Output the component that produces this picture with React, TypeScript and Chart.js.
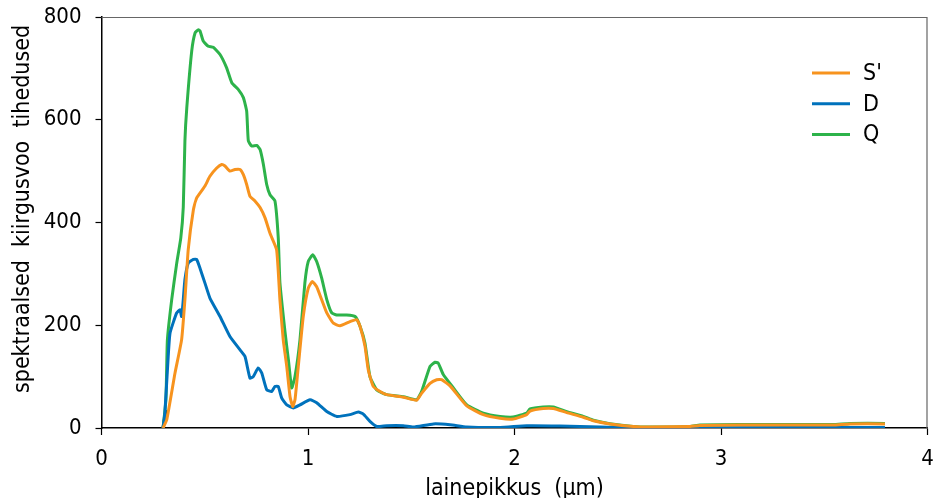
import React, { useEffect, useRef } from "react";
import { Chart, registerables } from "chart.js";

Chart.register(...registerables);

const FONT = '"DejaVu Sans Condensed", "DejaVu Sans", sans-serif';

// S' (orange)
const sX = [0.298, 0.316, 0.356, 0.388, 0.404, 0.42, 0.445, 0.461, 0.501, 0.525, 0.558, 0.582, 0.598, 0.622, 0.646, 0.671, 0.687, 0.703, 0.719, 0.743, 0.768, 0.792, 0.816, 0.848, 0.864, 0.88, 0.897, 0.913, 0.926, 0.937, 0.953, 0.977, 1.001, 1.021, 1.042, 1.066, 1.091, 1.123, 1.155, 1.203, 1.236, 1.252, 1.276, 1.292, 1.316, 1.349, 1.381, 1.462, 1.526, 1.551, 1.591, 1.623, 1.647, 1.688, 1.769, 1.849, 1.93, 1.994, 2.059, 2.075, 2.139, 2.188, 2.253, 2.333, 2.382, 2.462, 2.575, 2.656, 2.85, 2.898, 3.27, 3.542, 3.625, 3.794];
const sY = [0, 16, 107, 172, 250, 347, 425, 448, 471, 490, 506, 513, 510, 500, 503, 503, 493, 474, 451, 442, 429, 409, 379, 347, 250, 172, 120, 61, 42, 55, 120, 217, 272, 285, 275, 250, 224, 204, 199, 207, 211, 198, 159, 113, 81, 71, 65, 60, 54, 68, 87, 94, 94, 82, 43, 26, 19, 17.5, 26, 33, 38, 38, 30, 21, 14, 8, 3, 2, 3, 5, 6, 6, 8, 8];

// D (blue)
const dX = [0.298, 0.307, 0.323, 0.332, 0.364, 0.38, 0.388, 0.396, 0.404, 0.42, 0.445, 0.461, 0.477, 0.501, 0.525, 0.574, 0.622, 0.671, 0.695, 0.719, 0.735, 0.759, 0.776, 0.8, 0.824, 0.84, 0.856, 0.873, 0.897, 0.929, 0.961, 1.01, 1.042, 1.091, 1.139, 1.203, 1.244, 1.268, 1.3, 1.333, 1.381, 1.462, 1.51, 1.607, 1.688, 1.769, 1.93, 2.059, 2.22, 2.414, 2.575, 2.898, 3.794];
const dY = [0, 30, 139, 185, 224, 230, 217, 250, 289, 321, 328, 328, 311, 282, 253, 217, 178, 152, 139, 97, 100, 117, 107, 74.5, 71, 81, 81, 58, 45, 39, 45, 55, 49, 32, 22.6, 26, 31, 27, 13, 3, 4.5, 4.5, 2, 8, 6.4, 2, 1, 4.5, 4, 2, 0.5, 0.5, 1];

// Q (green)
const qX = [0.298, 0.312, 0.319, 0.34, 0.364, 0.384, 0.396, 0.404, 0.413, 0.437, 0.453, 0.469, 0.477, 0.493, 0.517, 0.541, 0.574, 0.606, 0.631, 0.662, 0.687, 0.703, 0.711, 0.727, 0.752, 0.768, 0.784, 0.8, 0.816, 0.84, 0.856, 0.864, 0.889, 0.905, 0.921, 0.937, 0.961, 0.985, 1.001, 1.023, 1.042, 1.066, 1.091, 1.115, 1.139, 1.187, 1.228, 1.252, 1.276, 1.3, 1.333, 1.381, 1.462, 1.526, 1.551, 1.591, 1.615, 1.631, 1.655, 1.704, 1.769, 1.849, 1.93, 1.994, 2.059, 2.075, 2.139, 2.188, 2.253, 2.333, 2.382, 2.462, 2.575, 2.656, 2.85, 2.898, 3.27, 3.542, 3.625, 3.794];
const qY = [0, 55, 171, 250, 320, 370, 430, 559, 623, 734, 769, 775, 773, 753, 743, 741, 727, 701, 672, 659, 643, 617, 559, 549, 550, 542, 513, 474, 454, 442, 370, 283, 186, 133, 78, 100, 171, 283, 324, 337, 324, 292, 250, 224, 220, 220, 217, 198, 165, 100, 74, 65, 61, 55, 72, 120, 128, 126, 104, 78, 45, 29, 22.6, 21.4, 29, 37, 41, 41, 32, 22.6, 15, 8.4, 3, 2, 3, 6, 7, 7, 9, 9];

// short black start segment
const kX = [0.298, 0.312];
const kY = [0, 35];

const legendLabels = ["S'", "D", "Q"];
const colors = ["#f7931e", "#0072bc", "#2db34a"];

const xTicks = [0, 1, 2, 3, 4];
const yTicks = [0, 200, 400, 600, 800];
const xTitle = "lainepikkus  (µm)";
const yTitle = "spektraalsed  kiirgusvoo  tihedused";

const pts = (xs: number[], ys: number[]) => xs.map((x, i) => ({ x, y: ys[i] }));

export default function App() {
  const ref = useRef<HTMLCanvasElement | null>(null);
  useEffect(() => {
    if (!ref.current) return;
    const framePlugin = {
      id: "frame",
      afterDraw(chart: any) {
        const { ctx, chartArea } = chart;
        ctx.save();
        ctx.strokeStyle = "#666";
        ctx.lineWidth = 1.2;
        ctx.beginPath();
        ctx.moveTo(chartArea.left, chartArea.top + 0.5);
        ctx.lineTo(chartArea.right - 0.5, chartArea.top + 0.5);
        ctx.lineTo(chartArea.right - 0.5, chartArea.bottom);
        ctx.stroke();
        // y title
        ctx.save();
        ctx.translate(23, 209);
        ctx.rotate(-Math.PI / 2);
        ctx.font = `23px ${FONT}`;
        ctx.fillStyle = "#000";
        ctx.textAlign = "center";
        ctx.textBaseline = "middle";
        ctx.fillText(yTitle, 0, 0);
        ctx.restore();
        // legend
        const lx0 = 812, lx1 = 850, ly0 = 73, dy = 30.7;
        ctx.font = `23px ${FONT}`;
        ctx.textBaseline = "middle";
        ctx.textAlign = "left";
        legendLabels.forEach((lab, i) => {
          const y = ly0 + dy * i;
          ctx.strokeStyle = colors[i];
          ctx.lineWidth = 3;
          ctx.beginPath();
          ctx.moveTo(lx0, y);
          ctx.lineTo(lx1, y);
          ctx.stroke();
          ctx.fillStyle = "#000";
          ctx.fillText(lab, 863, y + 1);
        });
        ctx.restore();
      },
    };
    const ds = (label: string, xs: number[], ys: number[], color: string) => ({
      label,
      data: pts(xs, ys),
      borderColor: color,
      backgroundColor: color,
      borderWidth: 3,
      pointRadius: 0,
      tension: 0.15,
      fill: false,
    });
    const chart = new Chart(ref.current, {
      type: "line",
      data: {
        datasets: [
          ds(legendLabels[0], sX, sY, colors[0]),
          ds(legendLabels[1], dX, dY, colors[1]),
          ds(legendLabels[2], qX, qY, colors[2]),
          ds("start", kX, kY, "#222"),
        ],
      },
      options: {
        animation: false,
        responsive: true,
        maintainAspectRatio: false,
        layout: { padding: { top: 17, right: 5.5, left: 0, bottom: 0 } },
        plugins: { legend: { display: false }, tooltip: { enabled: false } },
        scales: {
          x: {
            type: "linear",
            min: 0,
            max: 4,
            afterBuildTicks: (s: any) => { s.ticks = xTicks.map((v) => ({ value: v })); },
            afterFit: (s: any) => { s.height = 70; s.paddingLeft = 0; s.paddingRight = 0; },
            ticks: { color: "#000", font: { family: FONT, size: 22 }, padding: 11 },
            grid: { display: true, drawOnChartArea: false, drawTicks: true, tickLength: 7, tickColor: "#000", tickWidth: 1.2 },
            border: { display: true, color: "#000", width: 1.5 },
            title: { display: true, text: xTitle, color: "#000", font: { family: FONT, size: 23 }, padding: { top: 0, bottom: -5 } },
          },
          y: {
            type: "linear",
            min: 0,
            max: 800,
            afterBuildTicks: (s: any) => { s.ticks = yTicks.map((v) => ({ value: v })); },
            afterFit: (s: any) => { s.width = 101.5; s.paddingTop = 0; s.paddingBottom = 0; },
            ticks: { color: "#000", font: { family: FONT, size: 22 }, padding: 14 },
            grid: { display: true, drawOnChartArea: false, drawTicks: true, tickLength: 6, tickColor: "#000", tickWidth: 1.2 },
            border: { display: true, color: "#000", width: 1.5 },
            title: { display: false },
          },
        },
      },
      plugins: [framePlugin],
    } as any);
    return () => chart.destroy();
  }, []);
  return (
    <div style={{ position: "absolute", left: 0, top: 0, width: 933, height: 498, background: "#fff" }}>
      <canvas ref={ref} />
    </div>
  );
}
